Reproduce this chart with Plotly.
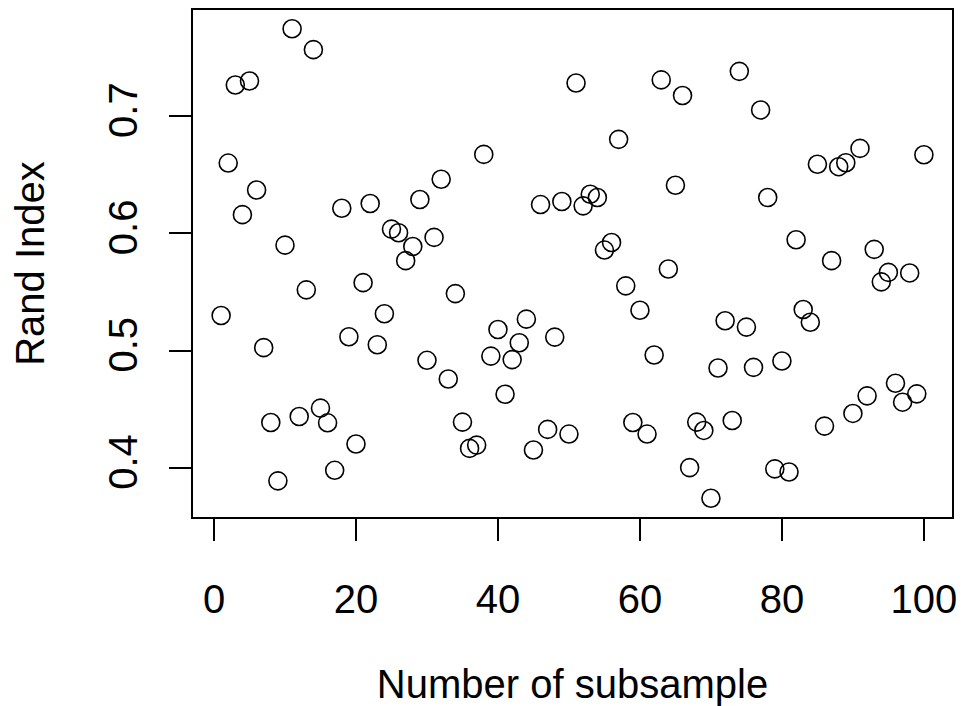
import plotly.graph_objects as go

subsample = list(range(1, 101))
rand_index = [
    0.530, 0.660, 0.7266, 0.616, 0.730, 0.637, 0.5026, 0.4388, 0.389, 0.590,
    0.7745, 0.4439, 0.5519, 0.7567, 0.451, 0.4385, 0.398, 0.6215, 0.5119, 0.4204,
    0.558, 0.6255, 0.5051, 0.5315, 0.6037, 0.6006, 0.5768, 0.5889, 0.6289, 0.4918,
    0.5966, 0.6462, 0.4759, 0.5487, 0.4391, 0.4167, 0.4195, 0.6674, 0.4954, 0.5181,
    0.4629, 0.4924, 0.5068, 0.5269, 0.4153, 0.6246, 0.4329, 0.5116, 0.6272, 0.4289,
    0.7283, 0.6235, 0.6334, 0.6306, 0.5858, 0.5923, 0.6802, 0.5553, 0.4388, 0.5345,
    0.4289, 0.4963, 0.7309, 0.5697, 0.6411, 0.7176, 0.4003, 0.4391, 0.432, 0.3742,
    0.4852, 0.5255, 0.4405, 0.7382, 0.5201, 0.4858, 0.7053, 0.6306, 0.3992, 0.4912,
    0.3966, 0.5946, 0.5351, 0.5243, 0.659, 0.4357, 0.5768, 0.6569, 0.6603, 0.4465,
    0.6725, 0.4615, 0.5864, 0.5587, 0.5668, 0.4722, 0.4561, 0.5663, 0.4632, 0.6671,
]
x_ticks = [0, 20, 40, 60, 80, 100]
y_ticks = [0.4, 0.5, 0.6, 0.7]
x_title = "Number of subsample"
y_title = "Rand Index"

def padded(vals):
    lo, hi = min(vals), max(vals)
    d = (hi - lo) * 0.04
    return [lo - d, hi + d]

FONT = "Liberation Sans, Arial, Helvetica, sans-serif"
FS = 40

fig = go.Figure(go.Scatter(
    x=subsample, y=rand_index, mode="markers",
    marker=dict(symbol="circle-open", size=18, color="black",
                line=dict(width=1.6, color="black")),
    hoverinfo="x+y",
))

axis_common = dict(
    showgrid=False, zeroline=False, showline=True, mirror=True,
    linecolor="black", linewidth=1.5, ticks="outside", ticklen=22,
    tickwidth=1.5, tickcolor="black",
    tickfont=dict(family=FONT, size=FS, color="black"),
)

fig.update_xaxes(range=padded(subsample), tickvals=x_ticks,
                 ticktext=[str(v) for v in x_ticks],
                 title=dict(text=x_title, font=dict(family=FONT, size=FS, color="black"),
                            standoff=50),
                 ticklabelstandoff=24,
                 **axis_common)
fig.update_yaxes(range=padded(rand_index), tickvals=y_ticks,
                 ticktext=[f"{v:.1f}" for v in y_ticks], tickangle=-90,
                 title=dict(text=y_title, font=dict(family=FONT, size=FS, color="black"),
                            standoff=44),
                 ticklabelstandoff=16,
                 **axis_common)

fig.update_layout(
    width=969, height=706,
    margin=dict(l=193, r=17, t=10, b=189, autoexpand=False),
    paper_bgcolor="white", plot_bgcolor="white",
    showlegend=False,
    font=dict(family=FONT, color="black"),
)

fig.write_html("out.html")
